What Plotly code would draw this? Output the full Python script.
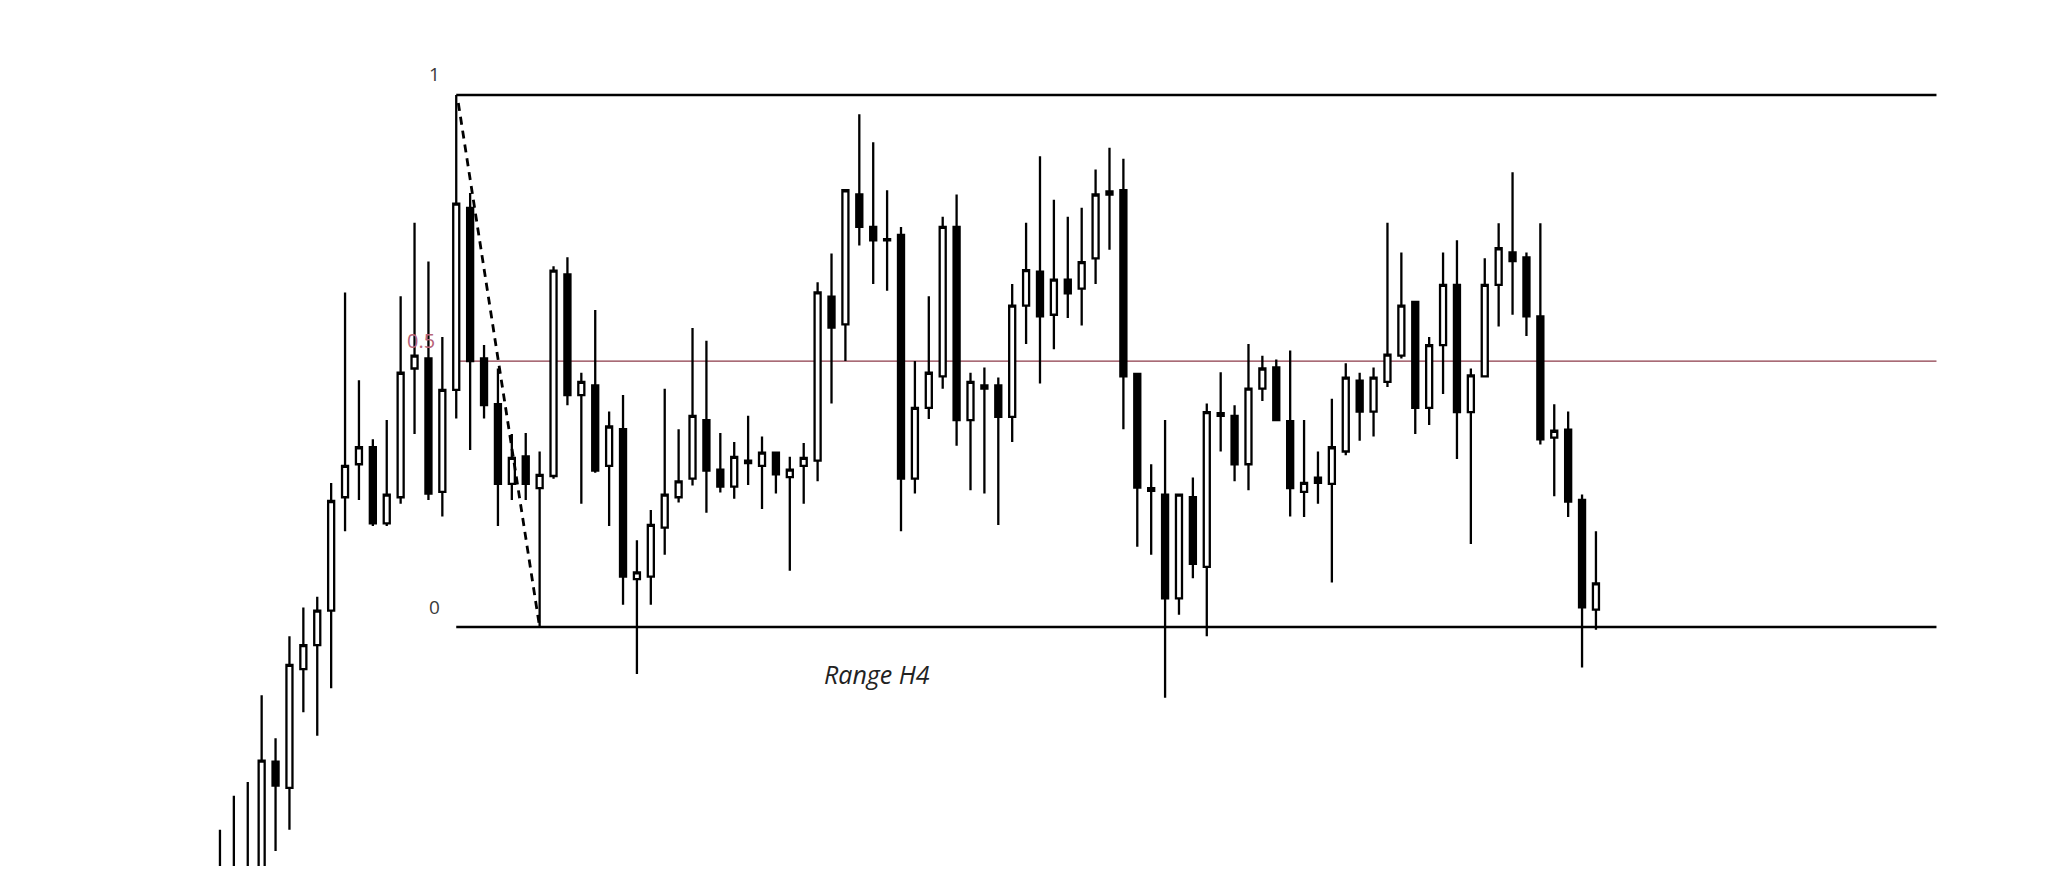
import plotly.graph_objects as go

# OHLC values, normalised to the marked range (0 = range low, 1 = range high)
opens = [-0.55, -0.52, -0.50, -0.50, -0.253, -0.302, -0.079, -0.034, 0.031, 0.244,
         0.306, 0.338, 0.195, 0.244, 0.486, 0.505, 0.254, 0.446, 0.788, 0.505,
         0.419, 0.269, 0.321, 0.261, 0.284, 0.663, 0.436, 0.454, 0.303, 0.372,
         0.090, 0.095, 0.187, 0.244, 0.279, 0.389, 0.296, 0.264, 0.313, 0.303,
         0.328, 0.282, 0.303, 0.313, 0.621, 0.569, 0.813, 0.752, 0.729, 0.737,
         0.279, 0.412, 0.471, 0.752, 0.389, 0.448, 0.454, 0.395, 0.604, 0.668,
         0.587, 0.653, 0.636, 0.693, 0.813, 0.821, 0.476, 0.261, 0.249, 0.054,
         0.244, 0.113, 0.397, 0.397, 0.306, 0.448, 0.488, 0.387, 0.254, 0.281,
         0.269, 0.330, 0.463, 0.405, 0.461, 0.510, 0.611, 0.412, 0.530, 0.643,
         0.404, 0.471, 0.643, 0.704, 0.695, 0.584, 0.356, 0.371, 0.239, 0.033]
highs = [-0.381, -0.317, -0.291, -0.128, -0.209, -0.017, 0.037, 0.057, 0.271, 0.629,
         0.464, 0.353, 0.389, 0.622, 0.760, 0.687, 0.545, 1.000, 0.816, 0.530,
         0.486, 0.363, 0.365, 0.330, 0.678, 0.695, 0.478, 0.596, 0.405, 0.436,
         0.163, 0.220, 0.448, 0.372, 0.562, 0.538, 0.365, 0.348, 0.397, 0.358,
         0.330, 0.320, 0.346, 0.648, 0.702, 0.823, 0.964, 0.911, 0.821, 0.752,
         0.500, 0.622, 0.771, 0.813, 0.478, 0.488, 0.469, 0.645, 0.760, 0.885,
         0.803, 0.771, 0.788, 0.860, 0.901, 0.880, 0.478, 0.306, 0.389, 0.251,
         0.281, 0.420, 0.479, 0.417, 0.532, 0.510, 0.503, 0.520, 0.389, 0.330,
         0.429, 0.496, 0.478, 0.488, 0.760, 0.704, 0.613, 0.545, 0.704, 0.727,
         0.486, 0.693, 0.759, 0.855, 0.704, 0.759, 0.419, 0.405, 0.249, 0.180]
lows = [-0.60, -0.58, -0.55, -0.52, -0.421, -0.381, -0.160, -0.204, -0.115, 0.180,
        0.239, 0.190, 0.190, 0.232, 0.363, 0.239, 0.208, 0.392, 0.333, 0.392,
        0.190, 0.239, 0.239, 0.000, 0.279, 0.417, 0.232, 0.290, 0.190, 0.042,
        -0.088, 0.042, 0.136, 0.234, 0.266, 0.215, 0.253, 0.241, 0.267, 0.222,
        0.251, 0.106, 0.232, 0.274, 0.420, 0.500, 0.717, 0.645, 0.632, 0.180,
        0.251, 0.391, 0.448, 0.341, 0.257, 0.251, 0.192, 0.348, 0.532, 0.458,
        0.522, 0.581, 0.567, 0.645, 0.709, 0.372, 0.151, 0.136, -0.133, 0.023,
        0.092, -0.017, 0.330, 0.274, 0.257, 0.425, 0.387, 0.208, 0.207, 0.232,
        0.084, 0.323, 0.350, 0.358, 0.451, 0.505, 0.363, 0.380, 0.438, 0.316,
        0.156, 0.469, 0.565, 0.587, 0.547, 0.343, 0.246, 0.207, -0.076, -0.005]
closes = [-0.47, -0.46, -0.455, -0.251, -0.298, -0.071, -0.034, 0.031, 0.237, 0.303,
          0.338, 0.195, 0.249, 0.478, 0.510, 0.251, 0.446, 0.796, 0.500, 0.417,
          0.269, 0.318, 0.269, 0.286, 0.670, 0.436, 0.461, 0.294, 0.377, 0.095,
          0.103, 0.192, 0.249, 0.274, 0.397, 0.294, 0.264, 0.320, 0.308, 0.328,
          0.287, 0.296, 0.318, 0.629, 0.563, 0.821, 0.752, 0.727, 0.727, 0.279,
          0.412, 0.478, 0.752, 0.389, 0.461, 0.454, 0.395, 0.604, 0.671, 0.584,
          0.653, 0.627, 0.686, 0.813, 0.819, 0.471, 0.262, 0.256, 0.054, 0.249,
          0.119, 0.404, 0.402, 0.306, 0.448, 0.486, 0.389, 0.261, 0.271, 0.271,
          0.338, 0.469, 0.405, 0.469, 0.512, 0.604, 0.412, 0.530, 0.643, 0.404,
          0.473, 0.643, 0.712, 0.688, 0.584, 0.353, 0.369, 0.236, 0.037, 0.082]
bars = list(range(len(opens)))

# Range drawing
range_start_bar = 17
range_end_bar = 123.5
swing_high_bar, swing_high = 17.15, 0.985
swing_low_bar, swing_low = 23, 0.0
level_labels = ["1", "0.5", "0"]
level_values = [1.0, 0.5, 0.0]
range_title = "Range H4"

fig = go.Figure()
fig.add_trace(go.Candlestick(
    x=bars, open=opens, high=highs, low=lows, close=closes,
    increasing=dict(line=dict(color="black", width=2.3), fillcolor="white"),
    decreasing=dict(line=dict(color="black", width=2.3), fillcolor="black"),
    whiskerwidth=0, showlegend=False, hoverinfo="skip",
))

# level lines
fig.add_shape(type="line", x0=range_start_bar, x1=range_end_bar, y0=level_values[0], y1=level_values[0],
              line=dict(color="black", width=2.5), layer="above")
fig.add_shape(type="line", x0=range_start_bar, x1=range_end_bar, y0=level_values[2], y1=level_values[2],
              line=dict(color="black", width=2.5), layer="above")
fig.add_shape(type="line", x0=range_start_bar, x1=range_end_bar, y0=level_values[1], y1=level_values[1],
              line=dict(color="#8b3a48", width=1.3), layer="below")
# dashed swing line
fig.add_shape(type="line", x0=swing_high_bar, y0=swing_high, x1=swing_low_bar, y1=swing_low,
              line=dict(color="black", width=2.8, dash="8px,6px"), layer="above")

label_font = dict(family="Open Sans, sans-serif", size=19, color="#3a3a3a")
fig.add_annotation(x=15.4, y=1.039, text=level_labels[0], showarrow=False, font=label_font)
fig.add_annotation(x=14.5, y=0.539, text=level_labels[1], showarrow=False,
                   font=dict(family="Open Sans, sans-serif", size=20, color="#b86478"))
fig.add_annotation(x=15.4, y=0.038, text=level_labels[2], showarrow=False, font=label_font)
fig.add_annotation(x=47.3, y=-0.088, text="<i>" + range_title + "</i>", showarrow=False,
                   font=dict(family="Open Sans, sans-serif", size=25, color="#222222"))

fig.update_layout(
    width=2048, height=880,
    margin=dict(l=0, r=0, t=0, b=22),
    paper_bgcolor="white", plot_bgcolor="white",
    xaxis=dict(range=[-15.25, 132.1], visible=False, rangeslider=dict(visible=False),
               showgrid=False, zeroline=False),
    yaxis=dict(range=[-0.449, 1.1635], visible=False, showgrid=False, zeroline=False),
    boxgap=0.38,
)

fig.write_html("out.html")
